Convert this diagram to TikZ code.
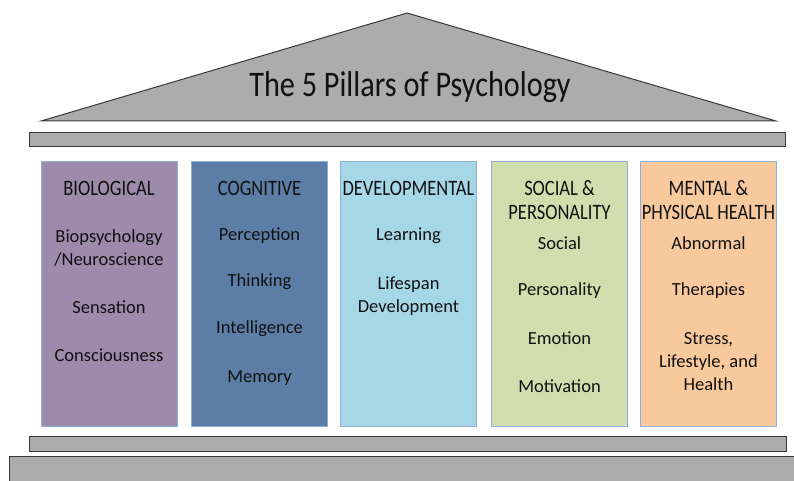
\documentclass[tikz,border=0pt]{standalone}
\usepackage{fontspec}
\setmainfont{Carlito}
\newfontfamily\condfont[FakeStretch=0.84]{Carlito}

\definecolor{stonegray}{HTML}{ACACAC}
\definecolor{stoneline}{HTML}{3A3A3A}
\definecolor{pillarline}{HTML}{8EB1DC}
\definecolor{biocol}{HTML}{9E8AAB}
\definecolor{cogcol}{HTML}{5C7DA5}
\definecolor{devcol}{HTML}{A6D7E6}
\definecolor{soccol}{HTML}{D0DEAD}
\definecolor{healthcol}{HTML}{F8C99D}
\definecolor{inkcol}{HTML}{111111}

\begin{document}
\begin{tikzpicture}[x=1pt,y=-1pt,
    stone/.style={fill=stonegray, draw=stoneline, line width=1pt},
    pillar/.style={draw=pillarline, line width=0.8pt, minimum width=136pt, minimum height=265pt, inner sep=0pt},
    head/.style={font=\condfont\fontsize{22}{24}\selectfont, text=inkcol, align=center, inner sep=0pt},
    item/.style={font=\fontsize{18.5}{23}\selectfont, text=inkcol, align=center, inner sep=0pt}]
    \useasboundingbox (0,0) rectangle (794,481);
    \clip (0,0) rectangle (794,481);

    % roof and beams
    \draw[stone] (41,121) -- (407,13) -- (776,121) -- cycle;
    \node[font=\condfont\fontsize{36}{40}\selectfont, text=inkcol, inner sep=0pt] at (410,87) (title) {The 5 Pillars of Psychology};
    \draw[stone] (29,133) rectangle (785,147);
    \draw[stone] (29,436) rectangle (786,451);
    \draw[stone] (9,456) rectangle (800,490);

    % pillars
    \node[pillar, fill=biocol]    at (109,294)   (bio)    {};
    \node[pillar, fill=cogcol]    at (259.5,294) (cog)    {};
    \node[pillar, fill=devcol]    at (408.5,294) (dev)    {};
    \node[pillar, fill=soccol]    at (559.5,294) (soc)    {};
    \node[pillar, fill=healthcol] at (708.5,294) (health) {};

    % biological
    \node[head] at (109,188)  (bio-h)  {BIOLOGICAL};
    \node[item] at (109,248)  (bio-1)  {Biopsychology\\/Neuroscience};
    \node[item] at (109,307)  (bio-2)  {Sensation};
    \node[item] at (109,355)  (bio-3)  {Consciousness};

    % cognitive
    \node[head] at (259.5,188) (cog-h) {COGNITIVE};
    \node[item] at (259.5,236) (cog-1) {Perception};
    \node[item] at (259.5,282) (cog-2) {Thinking};
    \node[item] at (259.5,329) (cog-3) {Intelligence};
    \node[item] at (259.5,378) (cog-4) {Memory};

    % developmental
    \node[head] at (408.5,188) (dev-h) {DEVELOPMENTAL};
    \node[item] at (408.5,236) (dev-1) {Learning};
    \node[item] at (408.5,296) (dev-2) {Lifespan\\Development};

    % social & personality
    \node[head] at (559.5,200) (soc-h) {SOCIAL \&\\PERSONALITY};
    \node[item] at (559.5,243) (soc-1) {Social};
    \node[item] at (559.5,291) (soc-2) {Personality};
    \node[item] at (559.5,338) (soc-3) {Emotion};
    \node[item] at (559.5,386) (soc-4) {Motivation};

    % mental & physical health
    \node[head] at (708.5,200) (health-h) {MENTAL \&\\PHYSICAL HEALTH};
    \node[item] at (708.5,243) (health-1) {Abnormal};
    \node[item] at (708.5,291) (health-2) {Therapies};
    \node[item] at (708.5,362) (health-3) {Stress,\\Lifestyle, and\\Health};
\end{tikzpicture}
\end{document}
